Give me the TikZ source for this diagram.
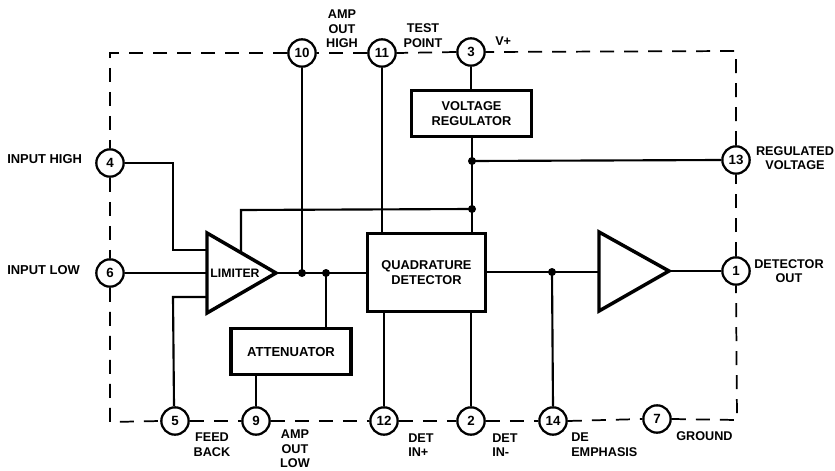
\documentclass[tikz,border=0pt]{standalone}
\usepackage{fontspec}
\setmainfont{Liberation Sans}
\begin{document}
\begin{tikzpicture}[x=0.75pt,y=-0.75pt,
  pin/.style={circle,draw,line width=1.7pt,fill=white,minimum size=20.5pt,inner sep=0pt,font=\bfseries\fontsize{10}{10}\selectfont},
  blockbox/.style={draw,line width=2.4pt,fill=white,inner sep=0pt,align=center,font=\bfseries\fontsize{9.6}{11.5}\selectfont},
  lbl/.style={inner sep=0pt,align=center,font=\bfseries\fontsize{9.5}{11}\selectfont},
  wire/.style={line width=1.6pt},
  frame/.style={line width=1.3pt,dash pattern=on 10.5pt off 7.5pt},
  tri/.style={line width=2.6pt,line join=miter,fill=white},
  jn/.style={circle,fill=black,inner sep=0pt,minimum size=6pt}]
\useasboundingbox (0,0) rectangle (835,471);
% frame corners
\coordinate (TL) at (110,53);
\coordinate (TR) at (736,51);
\coordinate (BR) at (737,420);
\coordinate (BL) at (110,422);
% pins
\node[pin] (p10) at (302,53) {10};
\node[pin] (p11) at (382,53) {11};
\node[pin] (p3) at (471,52) {3};
\node[pin] (p13) at (736,160) {13};
\node[pin] (p1) at (736,271) {1};
\node[pin] (p7) at (657,419) {7};
\node[pin] (p14) at (553,421) {14};
\node[pin] (p2) at (471,421) {2};
\node[pin] (p12) at (384,421) {12};
\node[pin] (p9) at (256,421) {9};
\node[pin] (p5) at (175,421) {5};
\node[pin] (p6) at (110,273) {6};
\node[pin] (p4) at (110,163) {4};
% dashed frame
\draw[frame] (p10.west) -- (TL) -- (p4.north);
\draw[frame] (p4.south) -- (p6.north);
\draw[frame] (p6.south) -- (BL) -- (p5.west);
\draw[frame] (p5.east) -- (p9.west);
\draw[frame] (p9.east) -- (p12.west);
\draw[frame] (p12.east) -- (p2.west);
\draw[frame] (p2.east) -- (p14.west);
\draw[frame] (p14.east) -- (p7.west);
\draw[frame] (p7.east) -- (BR) -- (p1.south);
\draw[frame] (p1.north) -- (p13.south);
\draw[frame] (p13.north) -- (TR) -- (p3.east);
\draw[frame] (p3.west) -- (p11.east);
\draw[frame] (p11.west) -- (p10.east);
% blocks
\node[blockbox,minimum width=90pt,minimum height=34pt] (vr) at (471.5,113.5) {VOLTAGE\\REGULATOR};
\node[blockbox,minimum width=89pt,minimum height=58pt] (qd) at (426.5,272.5) {QUADRATURE\\DETECTOR};
\node[blockbox,minimum width=90pt,minimum height=34pt,font=\bfseries\fontsize{9.8}{11.5}\selectfont] (att) at (291,351.5) {ATTENUATOR};
% triangle corners
\coordinate (la) at (207,233); \coordinate (lb) at (207,313); \coordinate (lo) at (276,273);
\coordinate (aa) at (599,232); \coordinate (ab) at (599,311); \coordinate (ao) at (669,271);
% junctions
\node[jn] (j1) at (302,273) {};
\node[jn] (j2) at (326,273) {};
\node[jn] (j3) at (552,272) {};
\node[jn] (j4) at (472,161) {};
\node[jn] (j5) at (472,209) {};
% wires
\coordinate (li1) at (207,250); \coordinate (li2) at (207,297); \coordinate (li3) at (207,273);
\coordinate (fb) at (241,253);
\draw[wire] (p4.east) -- (173,163) |- (li1);
\draw[wire] (p5.north) ++(-1,0) -- (173,297) -- (li2);
\draw[wire] (p6.east) -- (li3);
\draw[wire] (fb) -- (241,210) -- (j5.center);
\draw[wire] (p3.south) -- (vr.north -| p3);
\draw[wire] (vr.south -| j4) -- (qd.north -| j4);
\draw[wire] (j4.center) -- (p13.west);
\draw[wire] (p10.south) -- (j1.center);
\draw[wire] (p11.south) -- (p11 |- qd.north);
\draw[wire] (p12.north) -- (p12 |- qd.south);
\draw[wire] (p2.north) -- (p2 |- qd.south);
\draw[wire] (lo) -- (qd.west |- lo);
\draw[wire] (j2.center) -- (j2 |- att.north);
\draw[wire] (p9.north) -- (p9 |- att.south);
\draw[wire] (qd.east |- j3) -- (aa |- j3);
\draw[wire] (j3.center) -- (p14.north);
\draw[wire] (ao) -- (p1.west);
% triangles
\draw[tri] (la) -- (lo) -- (lb) -- cycle;
\draw[tri] (aa) -- (ao) -- (ab) -- cycle;
\node[inner sep=0pt,font=\bfseries\fontsize{9.2}{11}\selectfont] (lim) at (235,273) {LIMITER};
% labels
\node[lbl,anchor=west,font=\bfseries\fontsize{9.7}{11}\selectfont] (t4) at (7,159) {INPUT HIGH};
\node[lbl,anchor=west,font=\bfseries\fontsize{9.7}{11}\selectfont] (t6) at (7,270) {INPUT LOW};
\node[lbl] (t10) at (342,29) {AMP\\OUT\\HIGH};
\node[lbl] (t11) at (423,35.5) {TEST\\POINT};
\node[lbl,anchor=west] (t3) at (495,41) {V+};
\node[lbl] (t13) at (795,158) {REGULATED\\VOLTAGE};
\node[lbl] (t1) at (789,271) {DETECTOR\\OUT};
\node[lbl] (t5) at (212,445) {FEED\\BACK};
\node[lbl] (t9) at (295,449) {AMP\\OUT\\LOW};
\node[lbl,align=left,anchor=west] (t12) at (408,445) {DET\\IN+};
\node[lbl,align=left,anchor=west] (t2) at (492,445) {DET\\IN-};
\node[lbl,align=left,anchor=west] (t14) at (571,445) {DE\\EMPHASIS};
\node[lbl,anchor=west] (t7) at (676,436) {GROUND};
\end{tikzpicture}
\end{document}
